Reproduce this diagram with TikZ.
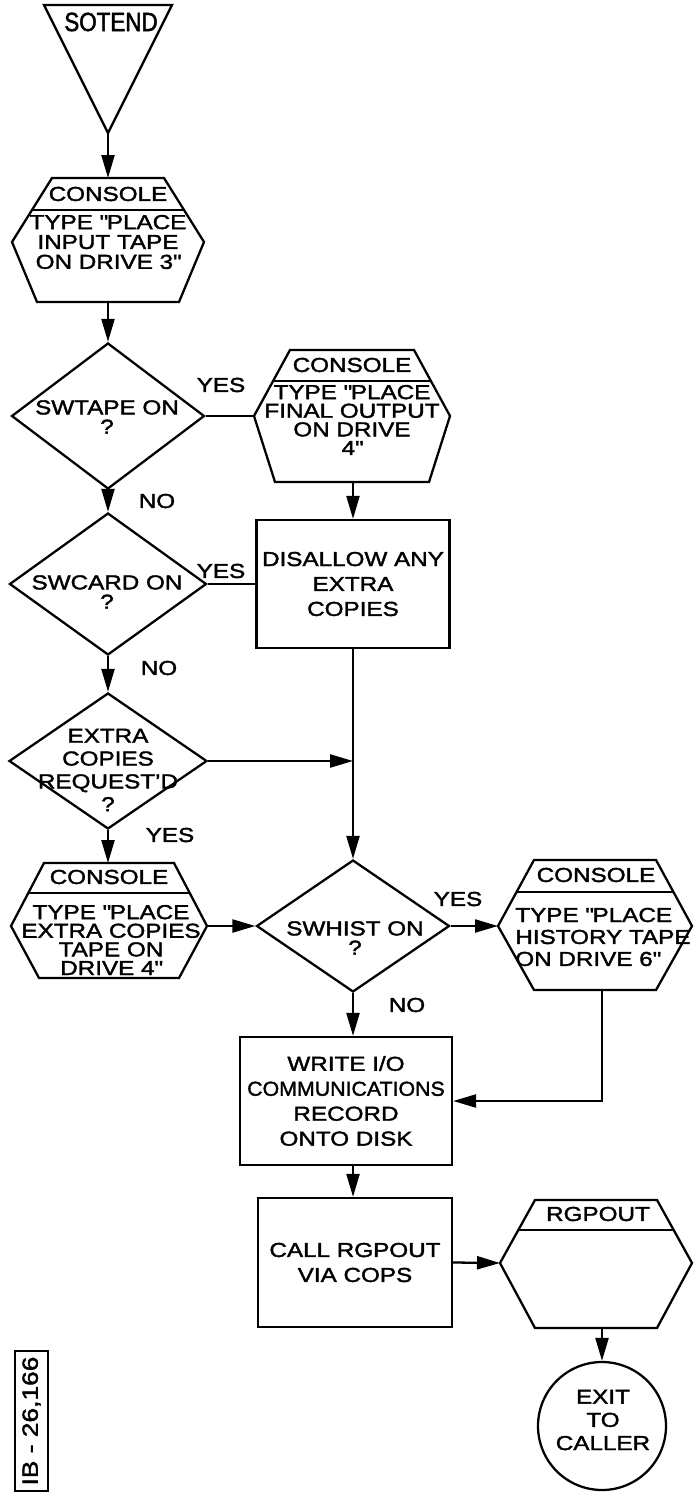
\documentclass[tikz,border=0pt]{standalone}
\usepackage{fontspec}
\setmainfont{Liberation Sans}[FakeStretch=1.2,FakeBold=1.8,Ligatures=NoCommon]
\newfontfamily\plainfont{Liberation Sans}[FakeStretch=0.85,FakeBold=1.8]
\usetikzlibrary{shapes.geometric,arrows.meta}
\newcommand\fntC{\fontsize{11.5}{10.6}\selectfont}
\newcommand\fntA{\fontsize{11.5}{11.3}\selectfont}
\newcommand\fntD{\fontsize{11.5}{11}\selectfont}
\newcommand\fntE{\fontsize{11.5}{13}\selectfont}
\newcommand\fntB{\fontsize{11.5}{14.2}\selectfont}
\newcommand\fntX{\fontsize{11.5}{13.2}\selectfont}
\newcommand\fntH{\fontsize{11.5}{12.5}\selectfont}
\newcommand\fntS{\plainfont\fontsize{15}{15}\selectfont}
\newcommand\fntL{\fontsize{12.5}{13}\selectfont}
\newcommand\qq{\textquotedbl}
\tikzset{
  ln/.style={line width=1.3pt, line join=miter},
  arr/.style={ln, -{Triangle[length=4.6mm,width=2.6mm]}},
  dia/.style={draw, ln, diamond, inner sep=0pt},
  box/.style={draw, ln, rectangle, inner sep=0pt, align=center, font=\fntB},
  txt/.style={inner sep=0pt, align=center, font=\fntC},
  lbl/.style={inner sep=0pt, font=\fntC},
}
\begin{document}
\begin{tikzpicture}[x=0.02cm,y=-0.02cm]
\useasboundingbox (0,0) rectangle (693,1493);

% SOTEND
\draw[ln] (44,5) -- (172,5) -- (108,133) -- cycle;
\coordinate (sot-s) at (108,133);
\node[txt, font=\fntS] (sot) at (111,22) {SOTEND};

% console 1
\draw[ln] (52,178) -- (164,178) -- (204,242) -- (179,302) -- (37,302) -- (12,242) -- cycle;
\draw[ln] (32,210) -- (184,210);
\coordinate (c1-n) at (108,178);
\coordinate (c1-s) at (108,302);
\node[txt] (c1h) at (108,194) {CONSOLE};
\node[txt, font=\fntA] (c1b) at (108,242) {TYPE \qq PLACE\\INPUT TAPE\\ON DRIVE 3\qq};

% decision 1
\node[dia, minimum width=3.86cm, minimum height=2.92cm] (d1) at (108,416) {};
\node[txt, font=\fntD] (d1t) at (107,417) {SWTAPE ON\\?};

% decision 2
\node[dia, minimum width=3.94cm, minimum height=2.84cm] (d2) at (108,584) {};
\node[txt, font=\fntD] (d2t) at (107,592) {SWCARD ON\\?};

% decision 3
\node[dia, minimum width=3.96cm, minimum height=2.72cm] (d3) at (108,761) {};
\node[txt, font=\fntE] (d3t) at (108,770) {EXTRA\\COPIES\\REQUEST'D\\?};

% console 2
\draw[ln] (290,350) -- (414,350) -- (450,416) -- (429,482) -- (275,482) -- (254,416) -- cycle;
\draw[ln] (273,381) -- (431,381);
\coordinate (c2-w) at (254,416);
\coordinate (c2-s) at (353,482);
\node[txt] (c2h) at (352,365) {CONSOLE};
\node[txt] (c2b) at (352,420) {TYPE \qq PLACE\\FINAL OUTPUT\\ON DRIVE\\4\qq};

% disallow
\node[box, minimum width=3.86cm, minimum height=2.56cm] (dis) at (353,584) {DISALLOW ANY\\EXTRA\\COPIES};

% console 3
\draw[ln] (44,863) -- (174,863) -- (207,926) -- (179,978) -- (39,978) -- (11,926) -- cycle;
\draw[ln] (28,893) -- (190,893);
\coordinate (c3-n) at (108,863);
\coordinate (c3-e) at (207,926);
\node[txt] (c3h) at (109,877) {CONSOLE};
\node[txt] (c3b) at (111,940) {TYPE \qq PLACE\\EXTRA COPIES\\TAPE ON\\DRIVE 4\qq};

% swhist
\node[dia, minimum width=3.86cm, minimum height=2.64cm] (sw) at (353,926) {};
\node[txt, font=\fntD] (swt) at (355,938) {SWHIST ON\\?};

% console 4
\draw[ln] (534,860) -- (656,860) -- (692,926) -- (656,990) -- (534,990) -- (498,926) -- cycle;
\draw[ln] (516,892) -- (674,892);
\coordinate (c4-w) at (498,926);
\coordinate (c4-s) at (602,990);
\node[txt] (c4h) at (596,875) {CONSOLE};
\node[txt, font=\fntH, align=left, anchor=west] (c4b) at (515,937) {TYPE \qq PLACE\\HISTORY TAPE\\ON DRIVE 6\qq};

% write
\node[box, minimum width=4.24cm, minimum height=2.56cm] (wr) at (346,1101) {WRITE I/O\\\scalebox{0.88}[1]{COMMUNICATIONS}\\RECORD\\ONTO DISK};

% call
\node[box, minimum width=3.88cm, minimum height=2.58cm] (call) at (355,1262.5) {CALL RGPOUT\\VIA COPS};

% rgpout
\draw[ln] (535,1200) -- (657,1200) -- (692,1263) -- (657,1328) -- (535,1328) -- (500,1263) -- cycle;
\draw[ln] (519,1230) -- (673,1230);
\coordinate (c5-w) at (500,1263);
\coordinate (c5-s) at (602,1328);
\node[txt] (c5h) at (598,1214) {RGPOUT};

% exit
\node[draw, ln, circle, minimum size=2.56cm, inner sep=0pt] (exit) at (602,1426) {};
\node[txt, font=\fntX] (exitt) at (603,1420) {EXIT\\TO\\CALLER};

% figure number
\node[draw, ln, rotate=90, minimum width=2.8cm, minimum height=0.66cm, inner sep=0pt, font=\fntL] (fig) at (31.5,1421) {IB - 26,166};

% connectors
\draw[arr] (sot-s) -- (c1-n);
\draw[arr] (c1-s) -- (d1.north);
\draw[ln] (d1.east) -- (c2-w);
\draw[arr] (d1.south) -- (d2.north);
\draw[ln] (d2.east) -- (dis.west);
\draw[arr] (c2-s) -- (dis.north);
\draw[arr] (d2.south) -- (d3.north);
\draw[arr] (dis.south) -- (sw.north);
\coordinate (j) at (353,761);
\draw[arr] (d3.east) -- (j);
\draw[arr] (d3.south) -- (c3-n);
\draw[arr] (c3-e) -- (sw.west);
\draw[arr] (sw.east) -- (c4-w);
\draw[arr] (sw.south) -- (sw.south |- wr.north);
\draw[arr] (c4-s) -- (c4-s |- wr.east) -- (wr.east);
\draw[arr] (wr.south -| sw.south) -- (call.north -| sw.south);
\draw[arr] (call.east) -- (c5-w);
\draw[arr] (c5-s) -- (exit.north);

% labels
\node[lbl] (y1) at (221,385) {YES};
\node[lbl] (n1) at (157,501) {NO};
\node[lbl] (y2) at (221,571) {YES};
\node[lbl] (n2) at (159,668) {NO};
\node[lbl] (y3) at (170,835) {YES};
\node[lbl] (y4) at (458,899) {YES};
\node[lbl] (n4) at (407,1005) {NO};
\end{tikzpicture}
\end{document}
